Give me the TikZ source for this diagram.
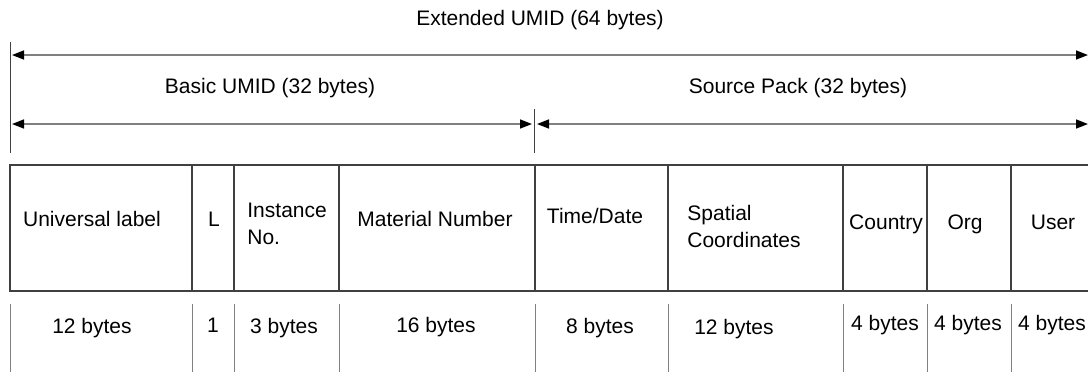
\documentclass[tikz,border=0pt]{standalone}
\usepackage{fontspec}
\setmainfont{Liberation Sans}
\usetikzlibrary{arrows.meta, positioning}
\definecolor{tabline}{RGB}{64,64,64}
\definecolor{dimline}{RGB}{128,128,128}

\begin{document}
\begin{tikzpicture}[
    x=0.5pt, y=-0.5pt,
    font=\fontsize{10.5}{13.5}\selectfont,
    cell/.style={draw=tabline, line width=1pt, minimum height=63pt, inner sep=0pt, outer sep=0pt},
    txt/.style={inner sep=0pt, anchor=base},
    ltxt/.style={inner sep=0pt, anchor=west, align=left},
    dim/.style={{Triangle[length=6pt,width=4.5pt,color=black]}-{Triangle[length=6pt,width=4.5pt,color=black]}, draw=dimline, line width=0.8pt},
    tick/.style={draw=tabline, line width=0.5pt},
    sep/.style={draw=dimline, line width=0.5pt}
]
\useasboundingbox (0,0) rectangle (1088,371);
\clip (0,0) rectangle (1088,371);

% Bemassung oben
\node[txt] (ext) at (540,25) {Extended UMID (64 bytes)};
\node[txt] (basic) at (270,93) {Basic UMID (32 bytes)};
\node[txt] (source) at (798,93) {Source Pack (32 bytes)};

\coordinate (tickA) at (10,42);
\coordinate (tickB) at (10,153);
\coordinate (tickC) at (534,109);
\coordinate (tickD) at (534,153);
\draw[tick] (tickA) -- (tickB);
\draw[tick] (tickC) -- (tickD);

\coordinate (extL) at (12,55);
\coordinate (extR) at (1088,55);
\coordinate (basL) at (12,124);
\coordinate (basR) at (532,124);
\coordinate (srcL) at (537,124);
\coordinate (srcR) at (1088,124);
\draw[dim] (extL) -- (extR);
\draw[dim] (basL) -- (basR);
\draw[dim] (srcL) -- (srcR);

% Felder
\node[cell, anchor=north west, minimum width=91pt] (ul) at (10,165) {};
\node[cell, minimum width=21pt, right=0pt of ul] (len) {};
\node[cell, minimum width=52.5pt, right=0pt of len] (inst) {};
\node[cell, minimum width=98pt, right=0pt of inst] (mat) {};
\node[cell, minimum width=66.5pt, right=0pt of mat] (tdate) {};
\node[cell, minimum width=87.5pt, right=0pt of tdate] (spat) {};
\node[cell, minimum width=42pt, right=0pt of spat] (ctry) {};
\node[cell, minimum width=42pt, right=0pt of ctry] (org) {};
\node[cell, minimum width=42pt, right=0pt of org] (usr) {};

\node[txt] (ulT) at (92,226) {Universal label};
\node[txt] (lenT) at (214,226) {L};
\node[ltxt] (instT) at (247,224) {Instance\\No.};
\node[txt] (matT) at (435,226) {Material Number};
\node[txt] (tdateT) at (595,223) {Time/Date};
\node[ltxt] (spatT) at (687,226) {Spatial\\Coordinates};
\node[txt] (ctryT) at (886,229) {Country};
\node[txt] (orgT) at (965,229) {Org};
\node[txt] (usrT) at (1053,229) {User};

% Groessen
\foreach \c in {ul,len,inst,mat,tdate,spat,ctry,org,usr}
    \draw[sep] (\c.south west) ++(0,13) -- ++(0,70);

\node[txt] (ulB) at (92,333) {12 bytes};
\node[txt] (lenB) at (213,332) {1};
\node[txt] (instB) at (284,333) {3 bytes};
\node[txt] (matB) at (436,332) {16 bytes};
\node[txt] (tdateB) at (600,333) {8 bytes};
\node[txt] (spatB) at (734,334) {12 bytes};
\node[txt] (ctryB) at (885,330) {4 bytes};
\node[txt] (orgB) at (968,330) {4 bytes};
\node[txt] (usrB) at (1052,330) {4 bytes};

\end{tikzpicture}
\end{document}
